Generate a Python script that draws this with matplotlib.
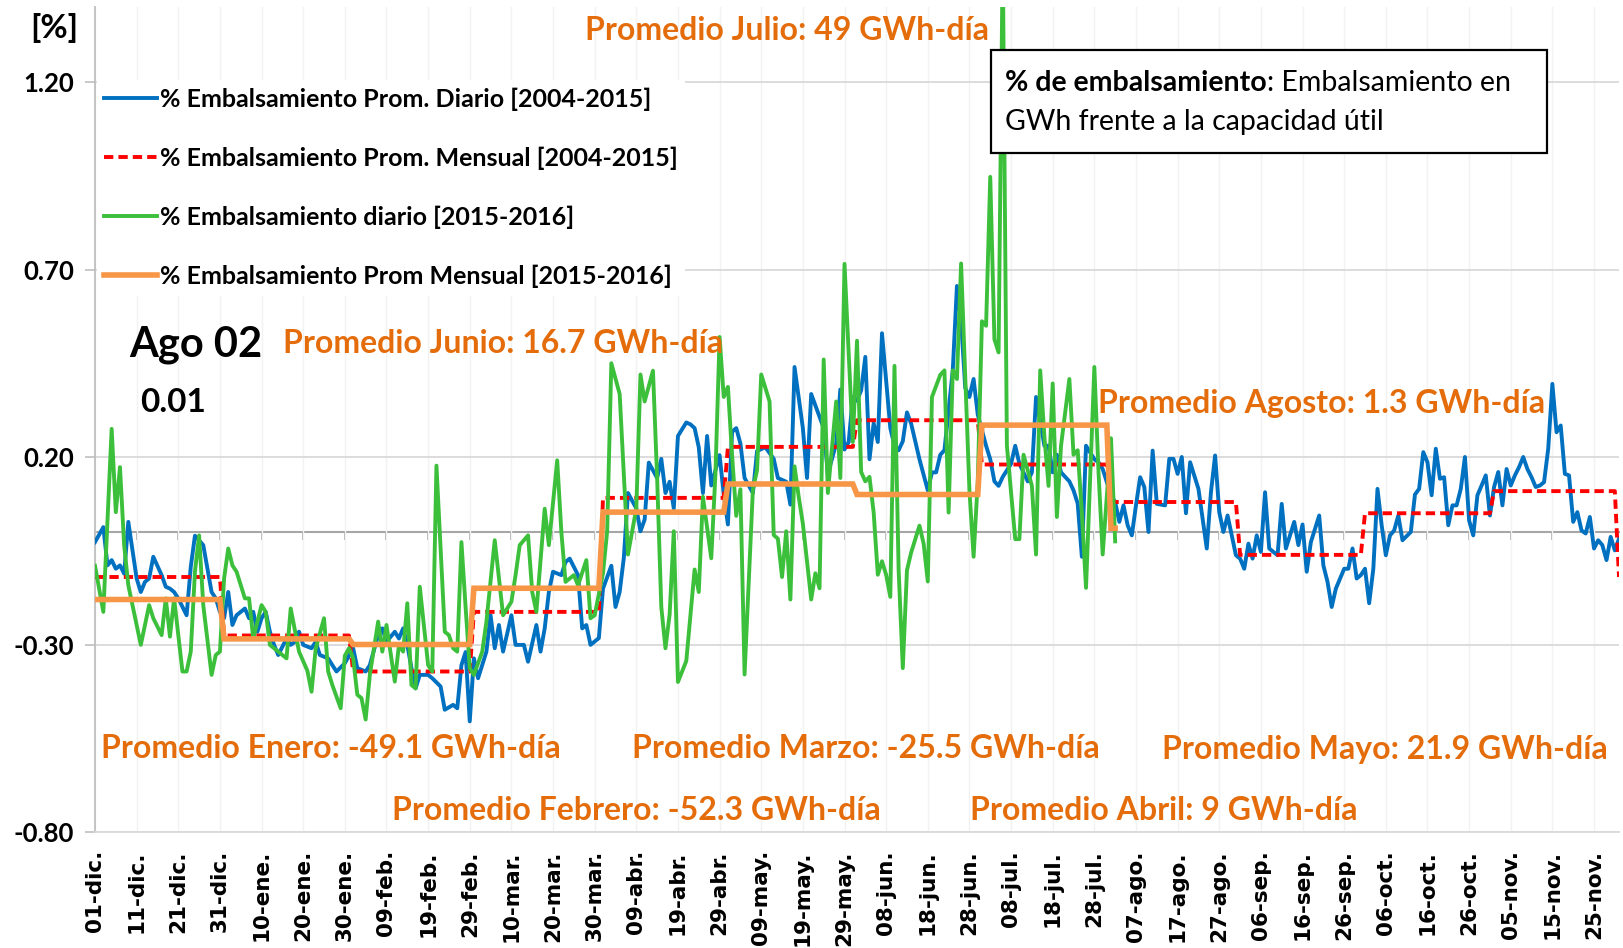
import numpy as np
import matplotlib
matplotlib.use("Agg")
import matplotlib.pyplot as plt
from matplotlib.patches import Rectangle
from matplotlib.text import Annotation
from matplotlib.font_manager import FontProperties

# ---------------------------------------------------------------------------
# Data (day index 0 = 01-dic-2015, leap year 2016)
# ---------------------------------------------------------------------------
dias_mes = [31, 31, 29, 31, 30, 31, 30, 31, 31, 30, 31, 30]          # dic..nov
prom_mensual_hist = [-0.12, -0.276, -0.372, -0.213, 0.091, 0.227,
                     0.298, 0.18, 0.08, -0.061, 0.05, 0.109]          # 2004-2015
dias_mes_actual = [31, 31, 29, 31, 30, 31, 30, 31, 2]                # dic..02-ago
prom_mensual_actual = [-0.18, -0.285, -0.30, -0.15, 0.053, 0.128,
                       0.10, 0.285, 0.01]                            # 2015-2016

dias_hist = [0, 2, 3, 4, 5, 6, 7, 8, 10, 11, 12, 13, 14, 16, 17, 18, 19, 20, 22, 23,
             24, 26, 28, 29, 30, 31, 32, 33, 34, 36, 37, 38, 39, 40, 41, 42, 43, 44, 46, 47,
             48, 49, 50, 52, 53, 54, 56, 57, 58, 60, 62, 63, 65, 66, 68, 69, 70, 72, 73, 74,
             75, 76, 77, 78, 80, 81, 83, 84, 86, 87, 88, 89, 90, 91, 92, 94, 95, 96, 97, 98,
             100, 101, 103, 104, 106, 107, 108, 109, 110, 112, 113, 114, 116, 117, 118, 119,
             121, 122, 124, 125, 126, 127, 128, 130, 131, 132, 133, 135, 136, 137, 138, 139,
             140, 142, 143, 144, 145, 146, 147, 148, 150, 151, 152, 153, 154, 155, 156, 158,
             159, 161, 163, 164, 166, 167, 168, 170, 171, 172, 174, 175, 176, 178, 179, 180,
             181, 182, 183, 184, 185, 186, 187, 188, 189, 191, 192, 193, 194, 195, 196, 198,
             200, 201, 202, 203, 204, 206, 207, 208, 209, 210, 211, 212, 214, 215, 216, 217,
             218, 220, 221, 222, 224, 225, 226, 228, 229, 230, 231, 232, 234, 235, 236, 237,
             238, 240, 241, 242, 244, 245, 246, 247, 248, 249, 250, 251, 252, 253, 254, 255,
             257, 258, 259, 260, 261, 262, 263, 265, 267, 268, 269, 270, 271, 272, 273, 274,
             275, 276, 277, 278, 279, 280, 281, 282, 284, 285, 286, 288, 289, 290, 291, 292,
             294, 295, 296, 297, 298, 300, 301, 302, 303, 304, 305, 306, 307, 308, 309, 310,
             311, 312, 313, 314, 316, 317, 318, 319, 320, 321, 322, 323, 324, 325, 326, 327,
             328, 329, 330, 331, 332, 333, 334, 335, 336, 337, 338, 339, 340, 341, 342, 343,
             344, 345, 346, 347, 348, 349, 350, 351, 352, 353, 354, 355, 356, 357, 358, 359,
             360, 361, 362, 363, 364, 365, 366]
diario_hist = [-0.027, 0.013, -0.089, -0.075, -0.098, -0.089, -0.111, 0.027, -0.124, -0.16,
               -0.133, -0.124, -0.066, -0.115, -0.146, -0.151, -0.16, -0.177, -0.222, -0.093,
               -0.01, -0.035, -0.16, -0.177, -0.213, -0.23, -0.16, -0.248, -0.222, -0.204,
               -0.23, -0.213, -0.266, -0.23, -0.213, -0.266, -0.301, -0.328, -0.284, -0.301,
               -0.293, -0.266, -0.301, -0.31, -0.293, -0.328, -0.337, -0.355, -0.372, -0.35,
               -0.31, -0.363, -0.372, -0.355, -0.275, -0.257, -0.293, -0.266, -0.284, -0.257,
               -0.301, -0.363, -0.417, -0.381, -0.381, -0.39, -0.412, -0.474, -0.461, -0.47,
               -0.355, -0.32, -0.505, -0.337, -0.39, -0.319, -0.222, -0.31, -0.248, -0.319,
               -0.222, -0.301, -0.301, -0.346, -0.248, -0.319, -0.257, -0.16, -0.106, -0.115,
               -0.08, -0.071, -0.115, -0.257, -0.248, -0.301,
               -0.283, -0.151, -0.09, -0.2, -0.16, -0.069, 0.104, 0.063, 0.002, 0.033,
               0.185, 0.144, 0.195, 0.104, 0.134, 0.063,
               0.256, 0.292, 0.287, 0.277, 0.226, 0.104, 0.256, 0.124, 0.205, 0.1,
               0.02, 0.267, 0.277, 0.236, 0.144, 0.104,
               0.216, 0.226, 0.195, 0.144, 0.134, 0.073, 0.44, 0.277, 0.144, 0.368,
               0.307, 0.277, 0.155, 0.236, 0.38, 0.22,
               0.24, 0.36, 0.35, 0.378, 0.467, 0.194, 0.29, 0.24, 0.53, 0.277,
               0.23, 0.218, 0.242, 0.319, 0.289, 0.194,
               0.111, 0.159, 0.159, 0.206, 0.218, 0.431, 0.656, 0.562, 0.384, 0.36,
               0.408, 0.313, 0.23, 0.194, 0.135, 0.123,
               0.147, 0.182, 0.23, 0.182, 0.135, 0.159, 0.36, 0.23, 0.23, 0.159,
               0.206, 0.159, 0.135, 0.111, 0.076, -0.066,
               0.23, 0.194, 0.186, 0.168, 0.098, 0.08, 0.027, 0.071, 0.018, -0.009,
               0.071, 0.146, 0.12, 0.0, 0.217, 0.075,
               0.071, 0.195, 0.195, 0.155, 0.2, 0.05, 0.186, 0.115, -0.044, 0.106,
               0.204, 0.053, 0.0, 0.044, -0.009, -0.062,
               -0.071, -0.098, -0.031, -0.071, -0.009, -0.053, 0.106, -0.044, -0.062, 0.075,
               -0.044, 0.027, -0.035, 0.02, -0.106, -0.027,
               0.044, -0.089, -0.133, -0.2, -0.151, -0.098, -0.098, -0.044, -0.124, -0.115,
               -0.098, -0.19, -0.098, 0.115, 0.018, -0.062,
               -0.009, 0.004, 0.044, -0.022, 0.0, 0.1, 0.115, 0.213, 0.186, 0.098,
               0.222, 0.142, 0.146, 0.018, 0.071, 0.071,
               0.115, 0.2, 0.031, -0.009, 0.098, 0.124, 0.151, 0.044, 0.12, 0.16,
               0.071, 0.168, 0.124, 0.151, 0.173, 0.2,
               0.168, 0.146, 0.12, 0.124, 0.133, 0.222, 0.395, 0.266, 0.284, 0.155,
               0.151, 0.027, 0.053, 0.004, -0.004, 0.04,
               -0.044, -0.022, -0.035, -0.075, -0.013, -0.049, -0.018]

dias_actual = [0, 2, 4, 5, 6, 7, 8, 11, 13, 14, 16, 17, 18, 19, 21, 22, 23, 24, 25, 26,
               28, 29, 30, 31, 32, 33, 34, 36, 37, 38, 40, 41, 42, 44, 46, 47, 49, 51, 52, 53,
               55, 56, 57, 59, 60, 61, 62, 63, 64, 65, 66, 68, 69, 70, 72, 73, 74, 75, 76, 77,
               78, 80, 81, 82, 84, 85, 86, 87, 88, 89, 90, 91, 93, 94, 96, 98, 100, 101, 102, 104,
               105, 106, 108, 109, 111, 112, 113, 115, 116, 118, 119, 120, 122, 123, 124, 126,
               127, 128, 130, 131, 132, 134, 135, 136, 137, 138, 139, 140, 142, 144, 145, 146,
               148, 149, 150, 151, 152, 153, 154, 155, 156, 158, 159, 160, 162, 163, 164, 165,
               166, 167, 168, 169, 170, 172, 173, 174, 175, 176, 178, 179, 180, 181, 182, 183,
               184, 185, 186, 187, 188, 189, 190, 191, 192, 193, 194, 195, 196, 198, 199, 200,
               201, 203, 204, 205, 206, 207, 208, 210, 211, 212, 213, 214, 215, 216, 217, 218,
               219, 221, 222, 223, 225, 226, 227, 228, 229, 230, 231, 232, 234, 235, 236, 237,
               238, 240, 241, 242, 244, 245]
diario_actual = [-0.09, -0.213, 0.275, 0.053, 0.173, -0.035, -0.142, -0.301, -0.195, -0.23,
                 -0.275, -0.177, -0.279, -0.177, -0.372, -0.372, -0.319, -0.106, -0.009, -0.195,
                 -0.381, -0.328, -0.319, -0.124, -0.044, -0.089, -0.106, -0.177, -0.177, -0.284,
                 -0.195, -0.213, -0.301, -0.319, -0.337, -0.204, -0.319, -0.37, -0.426, -0.311,
                 -0.23, -0.372, -0.408, -0.47, -0.33, -0.31, -0.337, -0.434, -0.443, -0.5,
                 -0.381, -0.239, -0.319, -0.248, -0.399, -0.301, -0.319, -0.19, -0.408, -0.417,
                 -0.146, -0.355, -0.372, 0.177, -0.266, -0.275, -0.31, -0.319, -0.027, -0.2,
                 -0.363, -0.381, -0.319, -0.239, -0.022, -0.222, -0.186, -0.115, -0.035, -0.009,
                 -0.16, -0.213, 0.062, -0.035, 0.191, 0.0, -0.133, -0.115, -0.142, -0.075,
                 -0.23, -0.222, -0.11, 0.002, 0.45, 0.368,
                 0.155, -0.06, 0.063, 0.42, 0.348, 0.43, 0.144, -0.2, -0.31, -0.22,
                 0.002, -0.4, -0.344, -0.1, -0.16, 0.094,
                 -0.07, 0.155, 0.52, 0.36, 0.387, 0.205, 0.043, 0.114, -0.38, 0.114,
                 0.165, 0.42, 0.348, -0.008, -0.018, -0.12,
                 0.002, -0.18, 0.175, 0.094, 0.022, -0.18, -0.11, -0.15, 0.46, 0.104,
                 0.348, 0.144, 0.715, 0.48, 0.24, 0.51,
                 0.16, 0.135, 0.147, 0.052, -0.114, -0.078, -0.114, -0.173, 0.443, -0.102,
                 -0.363, -0.102, -0.055, 0.017, -0.031, -0.132,
                 0.36, 0.419, 0.431, 0.052, 0.431, 0.408, 0.716, 0.111, -0.066, 0.135,
                 0.562, 0.55, 0.947, 0.514, 0.479, 1.55,
                 0.23, -0.019, -0.019, 0.206, 0.123, -0.06, 0.431, 0.254, 0.123, 0.396,
                 0.04, 0.23, 0.408, 0.206, 0.218, 0.052,
                 -0.149, 0.44, 0.16, -0.06, 0.25, -0.025]

etiquetas_x = ['01-dic.', '11-dic.', '21-dic.', '31-dic.', '10-ene.', '20-ene.', '30-ene.',
               '09-feb.', '19-feb.', '29-feb.', '10-mar.', '20-mar.', '30-mar.', '09-abr.',
               '19-abr.', '29-abr.', '09-may.', '19-may.', '29-may.', '08-jun.', '18-jun.',
               '28-jun.', '08-jul.', '18-jul.', '28-jul.', '07-ago.', '17-ago.', '27-ago.',
               '06-sep.', '16-sep.', '26-sep.', '06-oct.', '16-oct.', '26-oct.', '05-nov.',
               '15-nov.', '25-nov.']
ticks_y = [-0.80, -0.30, 0.20, 0.70, 1.20]

series_labels = ['% Embalsamiento Prom. Diario [2004-2015]',
                 '% Embalsamiento Prom. Mensual [2004-2015]',
                 '% Embalsamiento diario [2015-2016]',
                 '% Embalsamiento Prom Mensual [2015-2016]']

# Monthly means expanded to one value per day (historical wraps to 01-dic)
paso_hist = np.append(np.repeat(prom_mensual_hist, dias_mes), prom_mensual_hist[0])
paso_actual = np.repeat(prom_mensual_actual, dias_mes_actual)

# ---------------------------------------------------------------------------
W, H = 1624, 948


def fpos(x, y):
    """pixel position (from top-left) -> figure fraction"""
    return x / W, 1 - y / H


ORANGE_TXT = '#E46C0A'
FAM = ['Lato', 'DejaVu Sans']
lato_b = dict(family=FAM, weight='bold')

fig = plt.figure(figsize=(W / 100, H / 100), dpi=100)
ax = fig.add_axes([95 / W, 1 - 832 / H, (1619 - 95) / W, (832 - 7) / H])

l1, = ax.plot(dias_hist, diario_hist, color='#0070C0', lw=2.8, zorder=3)
l2, = ax.plot(np.arange(len(paso_hist)), paso_hist, color='#FF0000', lw=2.8,
              dashes=(2.4, 1.3), zorder=4)
l3, = ax.plot(dias_actual, diario_actual, color='#3CC03C', lw=2.8, zorder=5)
l4, = ax.plot(np.arange(len(paso_actual)), paso_actual, color='#F79646', lw=4.0,
              zorder=6, solid_joinstyle='miter')

ax.set_xlim(0, 366)
ax.set_ylim(-0.8, 1.4)

ax.set_xticks(np.arange(0, 361, 10))
ax.set_xticklabels(etiquetas_x, rotation=90, fontsize=15.5, fontweight='bold',
                   family='DejaVu Sans', va='top', ha='center')
ax.tick_params(axis='x', length=0, pad=13)

ax.set_yticks(ticks_y)
ax.set_yticklabels([f'{v:.2f}' for v in ticks_y], fontsize=18.5, **lato_b)
ax.tick_params(axis='y', length=7, color='#BFBFBF', width=1.2, pad=8)

for s in ('top', 'right'):
    ax.spines[s].set_visible(False)
ax.spines['left'].set_color('#BFBFBF')
ax.spines['left'].set_linewidth(1.3)
ax.spines['bottom'].set_color('#D9D9D9')
ax.spines['bottom'].set_linewidth(1.3)

ax.set_axisbelow(True)
ax.grid(axis='y', color='#D9D9D9', lw=1.3)
ax.grid(axis='x', color='#F2F2F2', lw=1.0)

# horizontal axis line crossing at zero, with tick marks
y0, y1 = ax.get_ylim()
sec = ax.secondary_xaxis((0 - y0) / (y1 - y0))
sec.set_xticks(np.arange(0, 361, 10))
sec.tick_params(axis='x', length=6, width=1.2, color='#A6A6A6', labelbottom=False)
sec.spines['bottom'].set_color('#A6A6A6')
sec.spines['bottom'].set_linewidth(1.5)

# legend
leg = ax.legend([l1, l2, l3, l4], series_labels, loc='upper left',
                bbox_to_anchor=fpos(97, 80), bbox_transform=fig.transFigure,
                prop=FontProperties(family=FAM, weight='bold', size=18),
                frameon=True, facecolor='white', edgecolor='none', framealpha=1,
                fancybox=False, borderpad=0.3, borderaxespad=0, handlelength=2.1,
                handletextpad=0.1, labelspacing=1.43)
leg.set_zorder(10)

# axis unit
fig.text(*fpos(30, 28), '[%]', fontsize=24, color='black', ha='left', va='center', **lato_b)

# monthly averages in GWh-día
notas = [
    ('Promedio Julio: 49 GWh-día', 585, 31),
    ('Promedio Junio: 16.7 GWh-día', 283, 343),
    ('Promedio Agosto: 1.3 GWh-día', 1098, 404),
    ('Promedio Enero: -49.1 GWh-día', 101, 749),
    ('Promedio Marzo: -25.5 GWh-día', 632, 749),
    ('Promedio Mayo: 21.9 GWh-día', 1162, 749),
    ('Promedio Febrero: -52.3 GWh-día', 392, 811),
    ('Promedio Abril: 9 GWh-día', 970, 811),
]
for txt, x, y in notas:
    fig.text(*fpos(x, y), txt, fontsize=23, color=ORANGE_TXT, ha='left', va='center',
             zorder=7, **lato_b)

fig.text(*fpos(129, 345), 'Ago 02', fontsize=30, color='black', ha='left', va='center',
         **lato_b)
fig.text(*fpos(140, 402), '0.01', fontsize=24, color='black', ha='left', va='center',
         **lato_b)

# definition box
fig.add_artist(Rectangle(fpos(991, 153), (1547 - 991) / W, (153 - 50) / H,
                         transform=fig.transFigure, facecolor='white',
                         edgecolor='black', lw=1.6, zorder=8))
t_bold = fig.text(*fpos(1005, 96), '% de embalsamiento', fontsize=20.5, color='black',
                  ha='left', va='bottom', zorder=9, **lato_b)
resto = Annotation(': Embalsamiento en', xy=(1, 0), xycoords=t_bold, ha='left',
                   va='bottom', fontsize=20.5, color='black', family=FAM)
resto.set_zorder(9)
fig.add_artist(resto)
fig.text(*fpos(1005, 122), 'GWh frente a la capacidad útil', fontsize=20.5, color='black',
         ha='left', va='center', zorder=9, family=FAM)

fig.savefig('out.png', dpi=100, facecolor='white')
